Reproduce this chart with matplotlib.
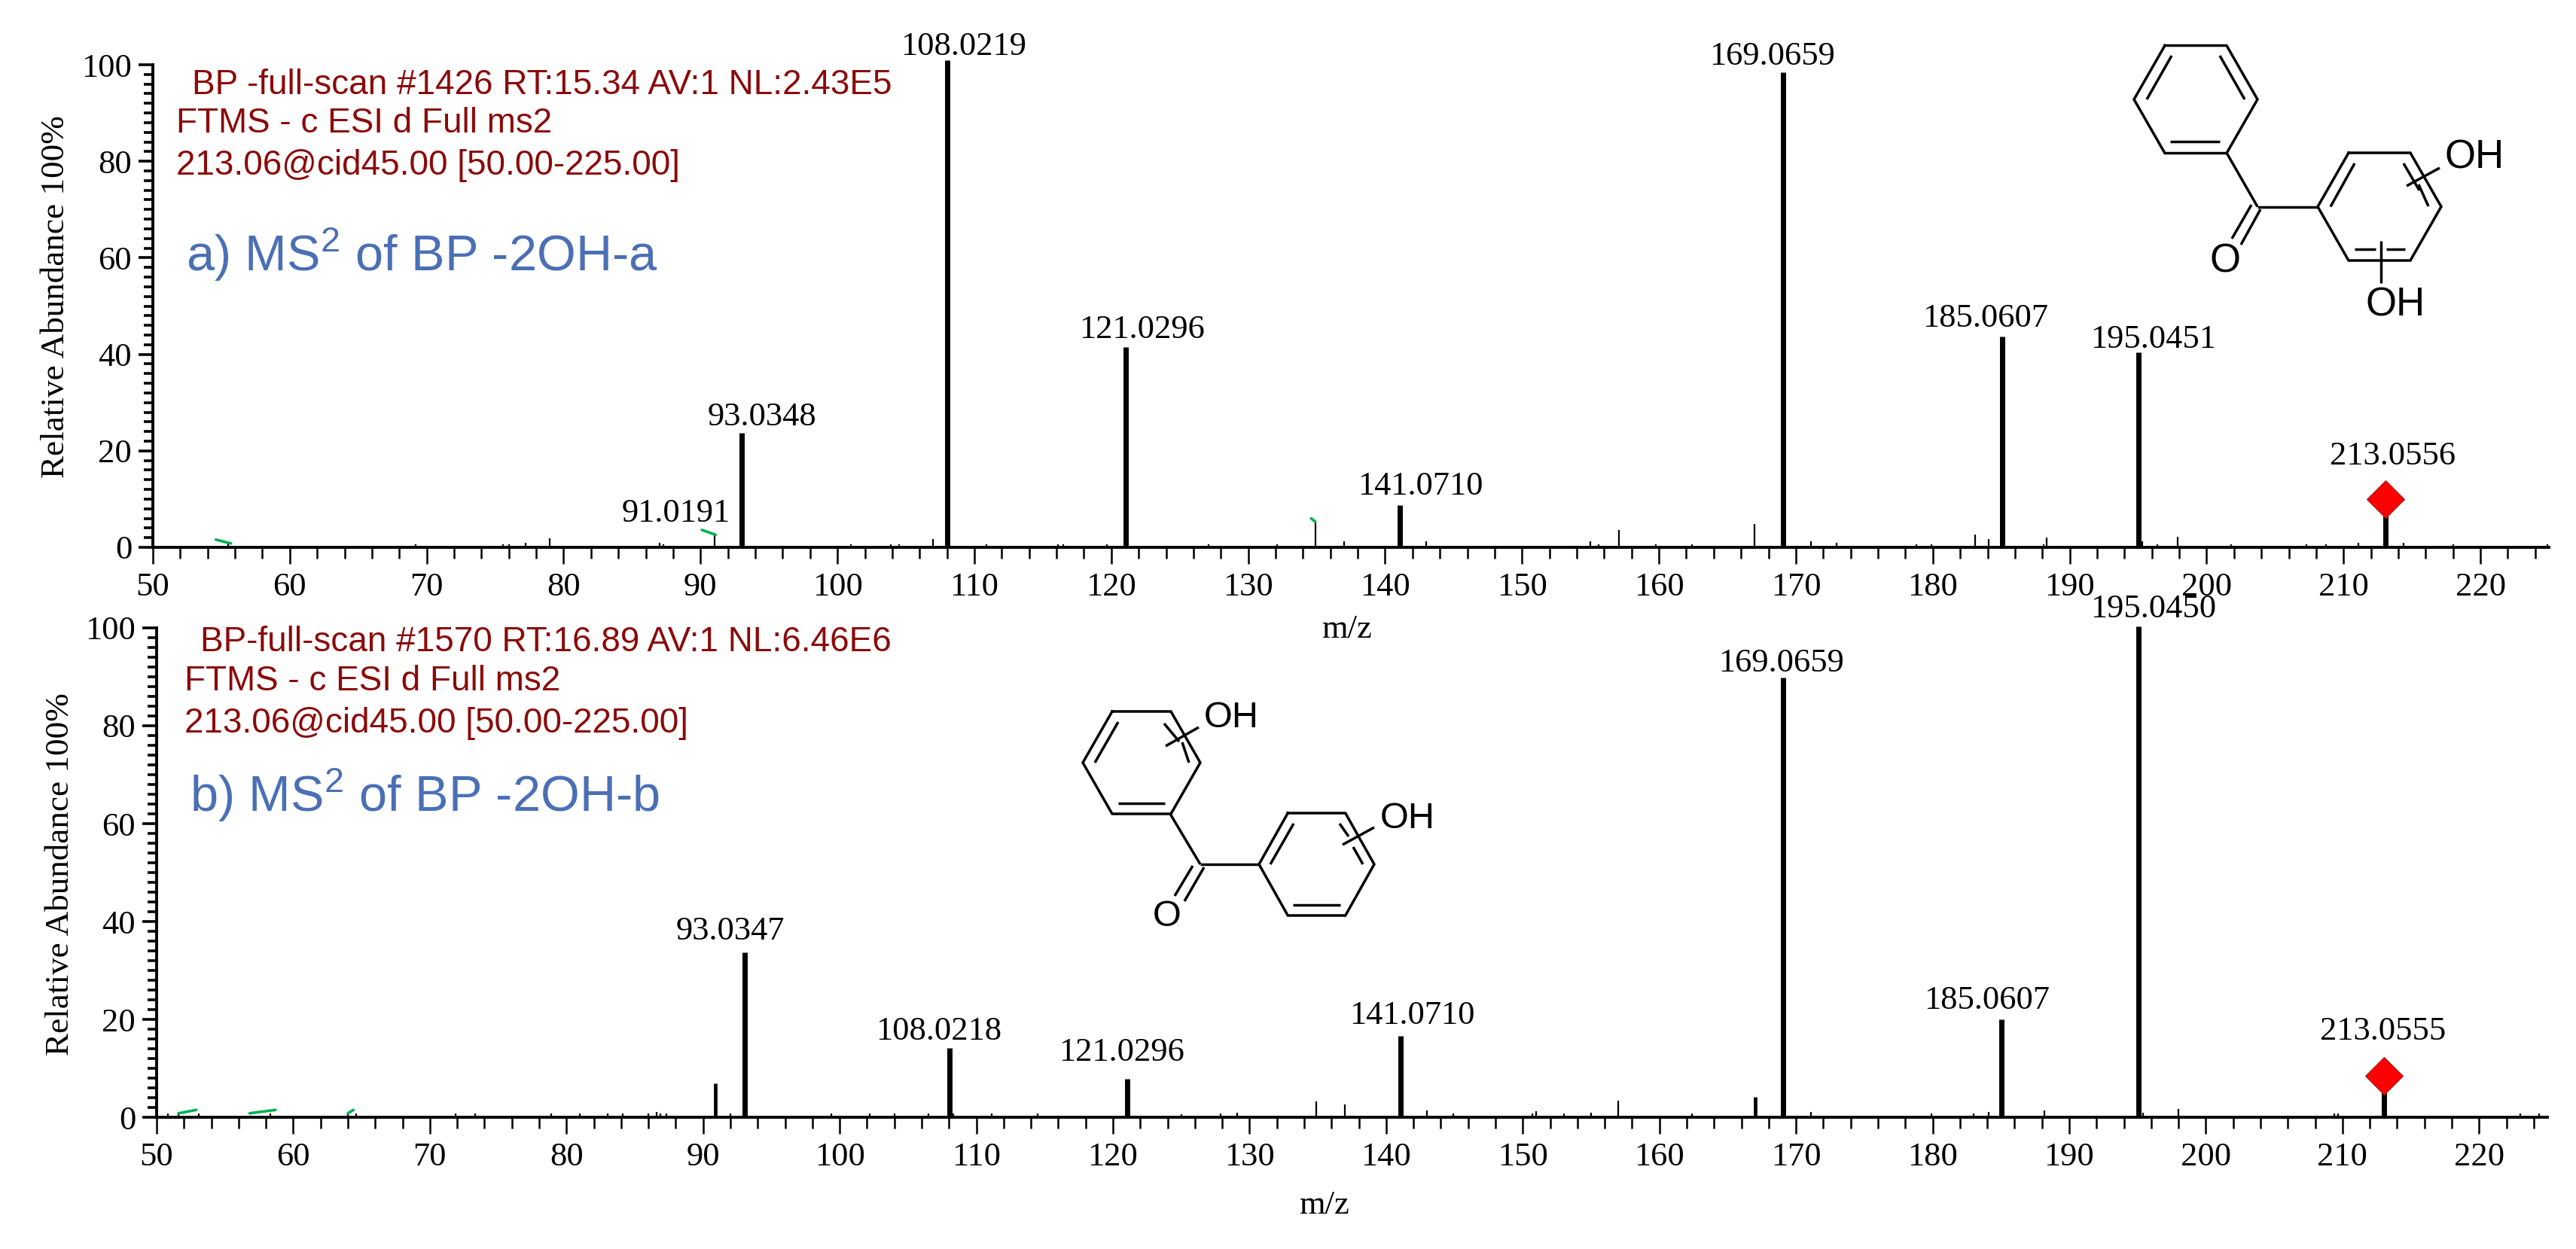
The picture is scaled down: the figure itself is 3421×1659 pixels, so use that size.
from matplotlib import pyplot as plt
from matplotlib.ticker import MultipleLocator

W, H = 3421, 1659

# labelled peaks, panel a
a_mz = [91.0191, 93.0348, 108.0219, 121.0296, 141.0710, 169.0659, 185.0607, 195.0451, 213.0556]
a_int = [2.5, 23.7, 101.0, 41.5, 8.8, 98.5, 43.7, 40.4, 10.0]
# small unlabelled peaks, panel a
a_small_mz = [55.5, 69.2, 75.6, 76.0, 77.2, 79.0, 87.0, 87.3, 101.0, 103.9, 104.5, 107.0, 110.9, 116.1,
              116.5, 119.7, 127.1, 132.1, 134.9, 137.0, 143.0, 155.0, 155.6, 157.1, 159.8, 162.4, 167.0,
              171.1, 173.0, 178.8, 179.9, 183.1, 184.1, 188.1, 188.3, 195.3, 196.4, 197.9, 201.8, 207.3,
              208.7, 211.1, 214.4, 218.0, 224.9]
a_small_int = [0.8, 0.7, 0.7, 0.7, 1.0, 1.8, 1.0, 0.7, 0.7, 0.7, 0.7, 1.7, 0.7, 0.7,
               0.7, 0.7, 0.7, 0.7, 5.4, 1.3, 1.3, 1.3, 0.7, 3.6, 0.7, 0.7, 4.9,
               1.3, 0.9, 0.7, 0.7, 2.6, 1.7, 0.7, 2.0, 1.2, 0.7, 2.2, 0.7, 0.7,
               0.7, 0.9, 1.0, 0.7, 0.7]
# labelled peaks, panel b
b_mz = [93.0347, 108.0218, 121.0296, 141.0710, 169.0659, 185.0607, 195.0450, 213.0555]
b_int = [33.7, 14.1, 7.8, 16.6, 89.8, 20.0, 100.3, 8.5]
b_small_mz = [50.8, 51.6, 53.1, 58.3, 64.0, 64.6, 71.9, 73.3, 78.9, 81.0, 83.0, 84.1, 86.0, 86.6, 86.9,
              87.3, 90.9, 92.0, 99.4, 102.2, 104.0, 106.5, 108.3, 111.1, 114.5, 125.0, 127.9, 129.1,
              134.9, 137.0, 143.0, 144.9, 150.7, 151.0, 153.0, 155.0, 157.0, 162.4, 167.0, 171.1, 179.9,
              183.0, 184.1, 188.2, 195.4, 198.0, 209.4, 209.7, 223.0, 224.4]
b_small_int = [0.7, 0.7, 0.7, 0.7, 0.7, 0.7, 0.7, 0.7, 0.7, 0.7, 0.7, 0.7, 0.7, 1.1, 0.8,
               0.8, 6.9, 0.8, 0.7, 0.7, 0.7, 0.7, 0.7, 0.7, 0.7, 0.6, 0.7, 0.9,
               3.3, 2.6, 1.4, 0.7, 0.7, 1.2, 0.7, 0.9, 3.4, 0.7, 4.1, 1.1, 0.7,
               0.7, 1.1, 1.4, 1.0, 1.7, 0.7, 0.7, 0.7, 0.7]
# small peaks drawn heavier in panel b
b_heavy = [90.9, 167.0]
# green marks next to some peaks: x0, x1, y0, y1
a_green = [(54.6, 55.7, 1.6, 0.8), (90.1, 91.1, 3.6, 2.6), (134.6, 134.9, 6.0, 5.3)]
b_green = [(51.6, 52.9, 0.8, 1.5), (56.8, 58.7, 0.8, 1.5), (64.0, 64.4, 0.8, 1.5)]

a_header = ["BP -full-scan #1426 RT:15.34 AV:1 NL:2.43E5", "FTMS - c ESI d Full ms2",
            "213.06@cid45.00 [50.00-225.00]"]
b_header = ["BP-full-scan #1570 RT:16.89 AV:1 NL:6.46E6", "FTMS - c ESI d Full ms2",
            "213.06@cid45.00 [50.00-225.00]"]
a_title = "a) MS$^{2}$ of BP -2OH-a"
b_title = "b) MS$^{2}$ of BP -2OH-b"

# label nudges in pixels (dx, gap above the peak)
a_nudge = [(-51, 18), (27, 10), (22, 7), (22, 12), (27, 14), (-14, 10), (-22, 13), (19, 6), (10, 46)]
b_nudge = [(-19, 17), (-14, 11), (-7, 24), (15, 16), (-3, 8), (-20, 14), (20, 12), (-2, 48)]

SERIF = "Liberation Serif"
SANS = "Liberation Sans"
RED = "#8B0A0A"
BLUE = "#4A6FB5"

plt.rcParams["mathtext.default"] = "regular"


def make_axes(fig, left, right, top, bottom):
    ax = fig.add_axes([left / W, 1 - bottom / H, (right - left) / W, (bottom - top) / H])
    ax.patch.set_alpha(0)
    ax.set_xlim(50, 225)
    ax.set_ylim(0, 100)
    for side in ["top", "right"]:
        ax.spines[side].set_visible(False)
    ax.spines["left"].set_linewidth(2.8)
    ax.spines["bottom"].set_linewidth(2.8)
    ax.xaxis.set_major_locator(MultipleLocator(10))
    ax.xaxis.set_minor_locator(MultipleLocator(2))
    ax.yaxis.set_major_locator(MultipleLocator(20))
    ax.yaxis.set_minor_locator(MultipleLocator(2))
    ax.tick_params(axis="x", which="major", length=16, width=1.8, pad=8)
    ax.tick_params(axis="x", which="minor", length=11, width=1.8)
    ax.tick_params(axis="y", which="major", length=14, width=2.6, pad=6)
    ax.tick_params(axis="y", which="minor", length=9, width=2.6)
    for lab in ax.get_xticklabels() + ax.get_yticklabels():
        lab.set_fontfamily(SERIF)
        lab.set_fontsize(32)
    return ax


def draw_panel(ax, mz, inten, small_mz, small_int, green, nudge, heavy=()):
    ax.vlines(small_mz, 0, small_int, color="black", linewidth=[3.4 if m in heavy else 1.6 for m in small_mz],
              clip_on=False, zorder=3)
    ax.vlines(mz, 0, inten, color="black", linewidth=[5.0 if v > 6 else 1.6 for v in inten], clip_on=False, zorder=3)
    for x0, x1, y0, y1 in green:
        ax.plot([x0, x1], [y0, y1], color="#00B050", linewidth=2.6, solid_capstyle="round", clip_on=False, zorder=4)
    for m, v, (dx, dy) in zip(mz, inten, nudge):
        ax.annotate(f"{m:.4f}", (m, v), xytext=(dx, dy), textcoords="offset pixels", ha="center", va="baseline",
                    family=SERIF, fontsize=32, annotation_clip=False)
    # precursor marker sits on the last labelled peak
    ax.plot(mz[-1], inten[-1], marker="D", markersize=25, markerfacecolor="#FF0000",
            markeredgecolor="#A02020", markeredgewidth=0.8, clip_on=False, zorder=5)


def ring(ov, cx, cy, hw, hh, lw=2.5):
    # flat topped hexagon outline
    qw = hw / 2
    xs = [cx - qw, cx + qw, cx + hw, cx + qw, cx - qw, cx - hw, cx - qw]
    ys = [cy - hh, cy - hh, cy, cy + hh, cy + hh, cy, cy - hh]
    ov.plot(xs, ys, color="black", linewidth=lw, solid_joinstyle="miter")


def bonds(ov, segs, lw=2.5):
    for (x0, y0, x1, y1) in segs:
        ov.plot([x0, x1], [y0, y1], color="black", linewidth=lw, solid_capstyle="butt")


def mol_a(ov):
    ring(ov, 2916, 132, 82, 71.5)
    ring(ov, 3160, 274.5, 82, 71.5)
    bonds(ov, [
        (2851, 132, 2884, 74), (2948, 74, 2981, 132), (2882, 188, 2948, 188),
        (2957, 203, 2998, 274.5), (2998, 274.5, 3078, 274.5),
        (2990, 272, 2964, 317), (3002, 278, 2976, 325),
        (3095, 274.5, 3127, 217), (3192, 217, 3213, 253), (3212, 245, 3225, 274),
        (3127, 331, 3155, 331), (3169, 331, 3194, 331),
        (3196, 247, 3240, 223), (3162, 320, 3162, 376),
    ])
    ov.text(2955, 348, "O", ha="center", va="center", family=SANS, fontsize=38)
    ov.text(3286, 209, "OH", ha="center", va="center", family=SANS, fontsize=38)
    ov.text(3181, 406, "OH", ha="center", va="center", family=SANS, fontsize=38)


def mol_b(ov):
    ring(ov, 1516, 1013, 78, 68)
    ring(ov, 1748.5, 1148, 76.5, 68)
    bonds(ov, [
        (1454, 1013, 1485, 959), (1546, 961, 1566, 985), (1570, 986, 1579, 1013), (1485, 1067, 1547, 1067),
        (1554, 1081, 1594, 1148), (1594, 1148, 1672, 1148),
        (1584, 1150, 1560, 1190), (1599, 1152, 1573, 1197),
        (1687, 1148, 1718, 1094), (1779, 1094, 1791, 1111), (1797, 1125, 1810, 1148), (1717, 1202, 1780, 1202),
        (1548, 991, 1592, 966), (1783, 1122, 1825, 1099),
    ])
    ov.text(1550, 1217, "O", ha="center", va="center", family=SANS, fontsize=35)
    ov.text(1635, 954, "OH", ha="center", va="center", family=SANS, fontsize=35)
    ov.text(1869, 1088, "OH", ha="center", va="center", family=SANS, fontsize=35)


fig = plt.figure(figsize=(W / 100, H / 100), dpi=100, facecolor="white")

ax_a = make_axes(fig, 203, 3385, 86, 727)
ax_b = make_axes(fig, 208, 3383, 834, 1484)
draw_panel(ax_a, a_mz, a_int, a_small_mz, a_small_int, a_green, a_nudge)
draw_panel(ax_b, b_mz, b_int, b_small_mz, b_small_int, b_green, b_nudge, heavy=b_heavy)

# overlay in image pixels, for headers and structures
ov = fig.add_axes([0, 0, 1, 1], zorder=5)
ov.set_xlim(0, W)
ov.set_ylim(H, 0)
ov.axis("off")

ov.text(74, 394, "Relative Abundance 100%", rotation=90, ha="center", va="center", family=SERIF, fontsize=32.5)
ov.text(80, 1161, "Relative Abundance 100%", rotation=90, ha="center", va="center", family=SERIF, fontsize=32.5)
ov.text(1788, 847, "m/z", ha="center", va="baseline", family=SERIF, fontsize=32)
ov.text(1758, 1612, "m/z", ha="center", va="baseline", family=SERIF, fontsize=32)

for txt, x, y in zip(a_header, [255, 234, 234], [125, 176, 232]):
    ov.text(x, y, txt, color=RED, va="baseline", family=SANS, fontsize=33)
for txt, x, y in zip(b_header, [266, 245, 245], [865, 917, 973]):
    ov.text(x, y, txt, color=RED, va="baseline", family=SANS, fontsize=33)
ov.text(247, 360, a_title, color=BLUE, va="baseline", family=SANS, fontsize=48)
ov.text(252, 1078, b_title, color=BLUE, va="baseline", family=SANS, fontsize=48)

mol_a(ov)
mol_b(ov)

fig.savefig("out.png", dpi=100)
